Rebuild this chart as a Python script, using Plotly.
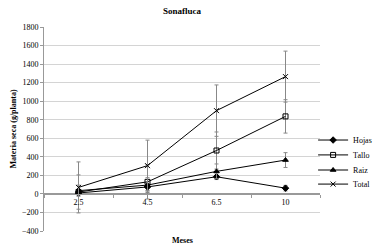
import plotly.graph_objects as go

meses = ["2.5", "4.5", "6.5", "10"]
hojas = [10, 75, 185, 62]
tallo = [20, 130, 468, 836]
raiz = [35, 95, 243, 365]
total = [70, 305, 898, 1265]
hojas_err = [20, 40, 30, 30]
tallo_err = [185, 185, 200, 180]
raiz_err = [60, 80, 80, 80]
total_err = [275, 275, 277, 275]

series = [
    ("Hojas", hojas, hojas_err, "diamond", "legend"),
    ("Tallo", tallo, tallo_err, "square-open", "legend2"),
    ("Raiz", raiz, raiz_err, "triangle-up", "legend3"),
    ("Total", total, total_err, "x-thin-open", "legend4"),
]
legend_y = {"legend": 0.446, "legend2": 0.373, "legend3": 0.299, "legend4": 0.230}

fig = go.Figure()
for name, vals, err, sym, leg in series:
    fig.add_trace(go.Scatter(
        x=meses, y=vals, name=name, mode="lines+markers", legend=leg,
        line=dict(color="black", width=1),
        marker=dict(symbol=sym, size=5, color="black",
                    line=dict(color="black", width=1)),
        error_y=dict(type="data", array=err, visible=True,
                     color="#888888", thickness=1, width=2),
    ))

legends = {}
for leg, yy in legend_y.items():
    legends[leg] = dict(x=0.975, y=yy, xanchor="left", yanchor="middle",
                        font=dict(size=8, color="black",
                                  family="Liberation Serif"),
                        itemwidth=30, bgcolor="rgba(0,0,0,0)")

y0frac = 400 / 2200
fig.update_layout(
    width=378, height=251,
    margin=dict(l=44, r=58, t=27, b=20, autoexpand=False),
    paper_bgcolor="white", plot_bgcolor="white",
    font=dict(family="Liberation Serif", size=8, color="black"),
    title=dict(text="<b>Sonafluca</b>", x=0.5, xref="paper", y=0.955,
               yanchor="middle", font=dict(size=9)),
    showlegend=True,
    xaxis=dict(type="category", categoryorder="array", categoryarray=meses,
               range=[-0.5, 3.5],
               anchor="free", position=y0frac, automargin=False,
               showline=True, linecolor="#999999", linewidth=1,
               ticks="outside", tickson="boundaries", ticklen=3,
               tickcolor="#999999", showgrid=False, zeroline=False,
               tickfont=dict(size=8)),
    yaxis=dict(range=[-400, 1800], dtick=200, showline=True, automargin=False,
               linecolor="#999999", ticks="outside", ticklen=3,
               tickcolor="#999999", showgrid=True, gridcolor="#d4d4d4",
               zeroline=True, zerolinecolor="#999999", zerolinewidth=1,
               title=dict(text="<b>Materia seca (g/planta)</b>",
                          font=dict(size=8), standoff=4),
               tickfont=dict(size=8)),
    annotations=[dict(text="<b>Meses</b>", xref="paper", yref="paper",
                      x=0.5, y=-0.045, yanchor="middle", showarrow=False,
                      font=dict(size=8))],
    **legends,
)
fig.write_html("out.html", config={"displayModeBar": False},
               post_script="document.body.style.margin='0';document.body.style.padding='0';")
